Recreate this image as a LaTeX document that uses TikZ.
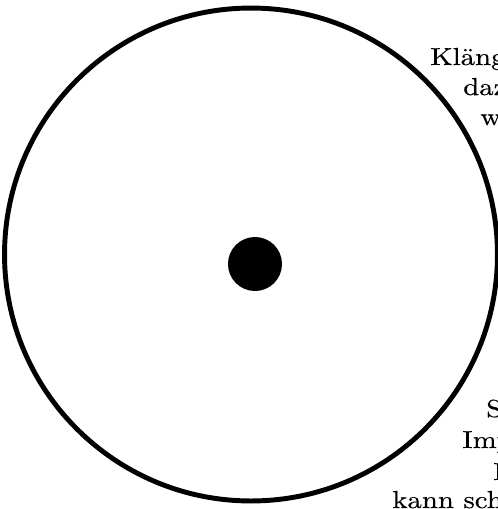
\documentclass[tikz,border=0pt]{standalone}
\usepackage{fontspec}
\setmainfont{lmroman10-regular.otf}[FakeStretch=1.17, FakeBold=0.4]
\usepackage{tikz}
\usetikzlibrary{positioning}

\tikzset{
  ringline/.style={line width=3.5pt, draw=black},
  sidetext/.style={anchor=base west, inner sep=0pt, font=\fontsize{17.5}{22}\selectfont}
}

\begin{document}
\begin{tikzpicture}[x=0.025cm, y=-0.025cm]
\useasboundingbox (0,0) rectangle (498,509);
\clip (0,0) rectangle (498,509);
% ring and centre dot
\draw[ringline] (251,254.5) circle (6.16cm);
\fill[black] (255,264) circle (0.675cm);
% text fragments at the right edge
\node[sidetext] (upperA) at (430,65) {Kläng};
\node[sidetext] (upperB) at (463,95) {daz};
\node[sidetext] (upperC) at (480,125) {w};
\node[sidetext] (lowerA) at (486,417) {S};
\node[sidetext] (lowerB) at (462,448) {Imp};
\node[sidetext] (lowerC) at (493,480) {I};
\node[sidetext] (lowerD) at (392,508) {kann scha};
\end{tikzpicture}
\end{document}
